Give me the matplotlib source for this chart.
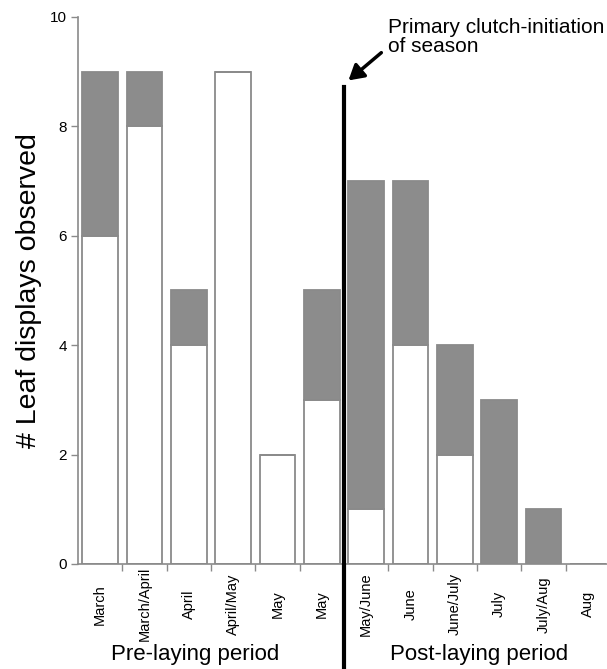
import numpy as np
import matplotlib.pyplot as plt

plt.rcParams['font.family'] = ['Liberation Sans', 'DejaVu Sans']

# data
months = ['March', 'March/April', 'April', 'April/May', 'May', 'May',
          'May/June', 'June', 'June/July', 'July', 'July/Aug', 'Aug']
white_counts = [6, 8, 4, 9, 2, 3, 1, 4, 2, 0, 0, 0]
gray_counts = [3, 1, 1, 0, 0, 2, 6, 3, 2, 3, 1, 0]
y_ticks = [0, 2, 4, 6, 8, 10]
clutch_line_top = 8.72

edge = '#8a8a8a'
fill = '#8c8c8c'

fig = plt.figure(figsize=(6.07, 6.69), dpi=100)
ax = fig.add_axes([0.1285, 0.157, 0.8765, 0.8176])

x = np.arange(len(months))
w = 0.81
ax.bar(x, white_counts, w, color='white', edgecolor=edge, linewidth=1.3)
ax.bar(x, gray_counts, w, bottom=white_counts, color=fill, edgecolor=edge, linewidth=1.3)

ax.set_xlim(-0.5, len(months) - 0.5)
ax.set_ylim(0, 10)
ax.set_yticks(y_ticks)
ax.tick_params(axis='y', direction='out', length=5, width=1, color=edge, labelsize=11, pad=3)

ax.set_xticks(x)
ax.set_xticklabels(months, rotation=90, fontsize=10.5, va='center')
ax.tick_params(axis='x', which='major', length=0, pad=29)
ax.set_xticks(np.arange(0.5, len(months) - 0.5, 1), minor=True)
ax.tick_params(axis='x', which='minor', direction='out', length=5, width=1, color=edge)

for s in ['top', 'right']:
    ax.spines[s].set_visible(False)
ax.spines['left'].set_color(edge)
ax.spines['bottom'].set_color(edge)
ax.spines['left'].set_linewidth(1.2)
ax.spines['bottom'].set_linewidth(1.2)

ax.set_ylabel('# Leaf displays observed', fontsize=20.5, labelpad=6)

# clutch initiation line, runs below the axis
ax.plot([5.5, 5.5], [clutch_line_top, -1.92], color='black', lw=3, clip_on=False, zorder=5)
ax.annotate('Primary clutch-initiation\nof season', xy=(5.6, clutch_line_top + 0.12),
            xytext=(6.5, 9.63), fontsize=15, ha='left', va='center', linespacing=1.0,
            arrowprops=dict(arrowstyle='-|>,head_width=0.35,head_length=0.6',
                            color='black', lw=2.5, shrinkA=4, shrinkB=0,
                            relpos=(0.0, 0.25)))

fig.text(0.322, 0.021, 'Pre-laying period', fontsize=16, ha='center', va='center')
fig.text(0.789, 0.021, 'Post-laying period', fontsize=16, ha='center', va='center')

fig.savefig('out.png', dpi=100)
